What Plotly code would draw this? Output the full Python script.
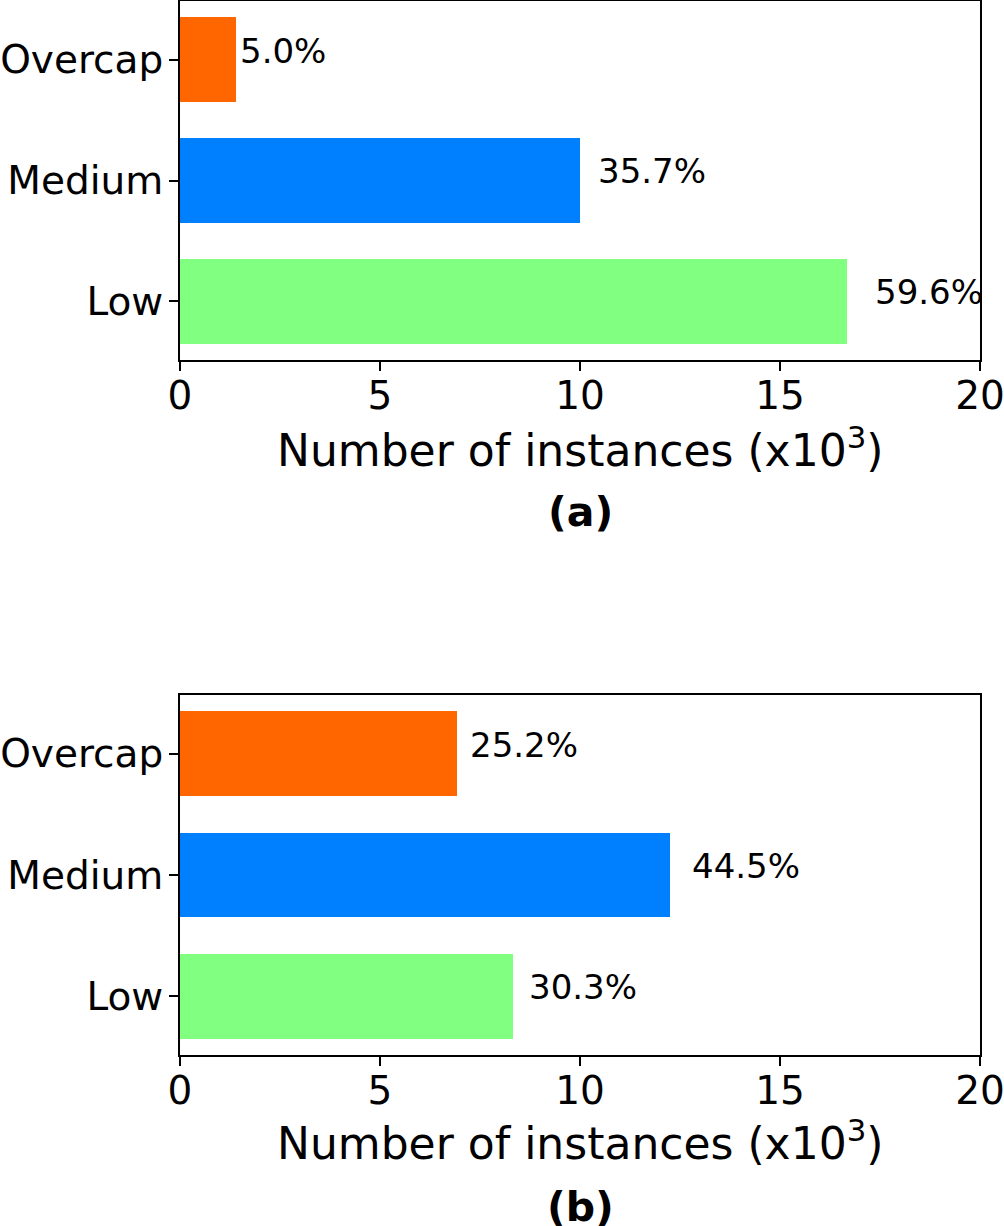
import plotly.graph_objects as go

categories = ["Low", "Medium", "Overcap"]
values_a = [16.67, 10.0, 1.4]
values_b = [8.33, 12.25, 6.92]
labels_a = ["59.6%", "35.7%", "5.0%"]
labels_b = ["30.3%", "44.5%", "25.2%"]
colors = ["#80FF80", "#0080FF", "#FF6600"]
xticks = [0, 5, 10, 15, 20]

W, H = 1004, 1226
FONT = "DejaVu Sans"

fig = go.Figure()
fig.add_trace(go.Bar(y=categories, x=values_a, orientation="h", width=0.7,
                     marker=dict(color=colors, line=dict(width=0)),
                     xaxis="x", yaxis="y", showlegend=False, hoverinfo="skip"))
fig.add_trace(go.Bar(y=categories, x=values_b, orientation="h", width=0.7,
                     marker=dict(color=colors, line=dict(width=0)),
                     xaxis="x2", yaxis="y2", showlegend=False, hoverinfo="skip"))

def py(px):
    return 1 - px / H

annotations = []
for vals, labs, xr, yr in [(values_a, labels_a, "x", "y"), (values_b, labels_b, "x2", "y2")]:
    for c, v, t in zip(categories, vals, labs):
        annotations.append(dict(x=v * 1.04, y=c, xref=xr, yref=yr, text=t,
                                showarrow=False, xanchor="left", yanchor="middle",
                                yshift=9, font=dict(family=FONT, size=34, color="black")))

axis_title = "Number of instances (x10<sup>3</sup>)"
for ymid in [447, 1140]:
    annotations.append(dict(x=0.5, y=py(ymid), xref="paper", yref="paper",
                            text=axis_title, showarrow=False, xanchor="center",
                            yanchor="middle", font=dict(family=FONT, size=44, color="black")))
for ymid, sub in [(512, "(a)"), (1207, "(b)")]:
    annotations.append(dict(x=0.5, y=py(ymid), xref="paper", yref="paper",
                            text="<b>" + sub + "</b>", showarrow=False, xanchor="center",
                            yanchor="middle", font=dict(family=FONT, size=41, color="black")))

xaxis_common = dict(range=[0, 20], tickvals=xticks, ticktext=[str(t) for t in xticks],
                    showline=True, linecolor="black", linewidth=2, mirror=True,
                    ticks="outside", ticklen=9, tickwidth=1.6, tickcolor="black",
                    showgrid=False, zeroline=False, automargin=False,
                    ticklabelstandoff=-9, ticklabeloverflow="allow",
                    tickfont=dict(family=FONT, size=39, color="black"))
yaxis_common = dict(type="category", categoryorder="array", categoryarray=categories,
                    range=[-0.485, 2.485],
                    showline=True, linecolor="black", linewidth=2, mirror=True,
                    ticks="outside", ticklen=9, tickwidth=1.6, tickcolor="black",
                    showgrid=False, zeroline=False, automargin=False,
                    ticklabelstandoff=-2, ticklabeloverflow="allow",
                    tickfont=dict(family=FONT, size=39, color="black"))

fig.update_layout(
    width=W, height=H,
    margin=dict(l=180, r=24, t=0, b=0),
    paper_bgcolor="white", plot_bgcolor="white",
    xaxis=dict(domain=[0, 1], anchor="y", **xaxis_common),
    yaxis=dict(domain=[py(360), py(1)], anchor="x", **yaxis_common),
    xaxis2=dict(domain=[0, 1], anchor="y2", **xaxis_common),
    yaxis2=dict(domain=[py(1055), py(695)], anchor="x2", **yaxis_common),
    annotations=annotations,
    bargap=0,
)

fig.write_html("out.html", config={"displayModeBar": False},
               post_script="document.body.style.margin='0';")
